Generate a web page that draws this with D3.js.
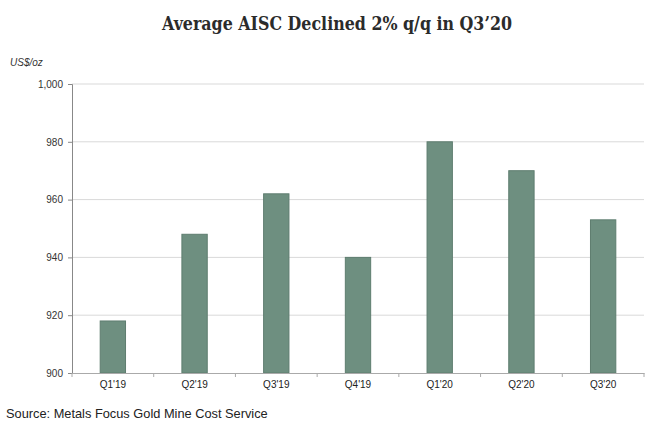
<!DOCTYPE html>
<html>
<head>
<meta charset="utf-8">
<script src="https://cdn.jsdelivr.net/npm/d3@7"></script>
<style>
  body { margin: 0; background: #fff; }
  text { font-family: "Liberation Sans", Arial, sans-serif; }
</style>
</head>
<body>
<svg id="chart"></svg>
<script>
const QUARTERS = ["Q1'19", "Q2'19", "Q3'19", "Q4'19", "Q1'20", "Q2'20", "Q3'20"];
const AISC = [918, 948, 962, 940, 980, 970, 953];
const Y_TICKS = [900, 920, 940, 960, 980, 1000];

const WIDTH = 652,
      HEIGHT = 431;
const MARGIN = { top: 84, right: 8, bottom: 58, left: 72 };

const svg = d3.select("#chart")
    .attr("width", WIDTH)
    .attr("height", HEIGHT);

const x = d3.scaleBand()
    .domain(QUARTERS)
    .range([MARGIN.left, WIDTH - MARGIN.right])
    .paddingInner(0.69)
    .paddingOuter(0.345);

const y = d3.scaleLinear()
    .domain([900, 1000])
    .range([HEIGHT - MARGIN.bottom, MARGIN.top]);

// title
svg.append("text")
    .attr("x", 337)
    .attr("y", 29.5)
    .attr("text-anchor", "middle")
    .attr("textLength", 350)
    .attr("lengthAdjust", "spacingAndGlyphs")
    .style("font-family", "'DejaVu Serif', serif")
    .style("font-weight", "bold")
    .style("font-size", "19px")
    .attr("fill", "#2b2b2b")
    .text("Average AISC Declined 2% q/q in Q3\u201920");

// unit label
svg.append("text")
    .attr("x", 10)
    .attr("y", 66)
    .style("font-style", "italic")
    .style("font-size", "10px")
    .attr("fill", "#333")
    .text("US$/oz");

// gridlines
svg.append("g")
    .selectAll("line")
    .data(Y_TICKS.filter(t => t > 900))
    .join("line")
    .attr("x1", MARGIN.left)
    .attr("x2", WIDTH - MARGIN.right)
    .attr("y1", d => y(d))
    .attr("y2", d => y(d))
    .attr("stroke", "#d9d9d9")
    .attr("stroke-width", 1);

// bars
svg.append("g")
    .selectAll("rect")
    .data(AISC)
    .join("rect")
    .attr("x", (d, i) => x(QUARTERS[i]))
    .attr("y", d => y(d))
    .attr("width", x.bandwidth())
    .attr("height", d => y(900) - y(d))
    .attr("fill", "#6e8f80")
    .attr("stroke", "#5e7d6f")
    .attr("stroke-width", 1);

// y axis
const yAxis = svg.append("g")
    .attr("transform", `translate(${MARGIN.left},0)`)
    .call(d3.axisLeft(y)
        .tickValues(Y_TICKS)
        .tickSize(4)
        .tickPadding(5)
        .tickFormat(d3.format(",")));
yAxis.select(".domain").attr("stroke", "#888");
yAxis.selectAll(".tick line").attr("stroke", "#888");
yAxis.selectAll(".tick text")
    .attr("fill", "#333")
    .style("font-size", "10px")
    .style("font-family", "'Liberation Sans', Arial, sans-serif");

// x axis
const xAxis = svg.append("g")
    .attr("transform", `translate(0,${y(900)})`)
    .call(d3.axisBottom(x).tickSize(0).tickPadding(8));
xAxis.select(".domain").attr("stroke", "#aaa");
xAxis.selectAll(".tick text")
    .attr("fill", "#222")
    .style("font-size", "10px")
    .style("font-family", "'Liberation Sans', Arial, sans-serif");

// category separators on x axis
const step = x.step();
svg.append("g")
    .selectAll("line")
    .data(d3.range(QUARTERS.length + 1))
    .join("line")
    .attr("x1", i => MARGIN.left + i * step)
    .attr("x2", i => MARGIN.left + i * step)
    .attr("y1", y(900))
    .attr("y2", y(900) + 4)
    .attr("stroke", "#aaa");

// source
svg.append("text")
    .attr("x", 6)
    .attr("y", 418)
    .style("font-size", "12.8px")
    .attr("fill", "#222")
    .text("Source: Metals Focus Gold Mine Cost Service");
</script>
</body>
</html>
